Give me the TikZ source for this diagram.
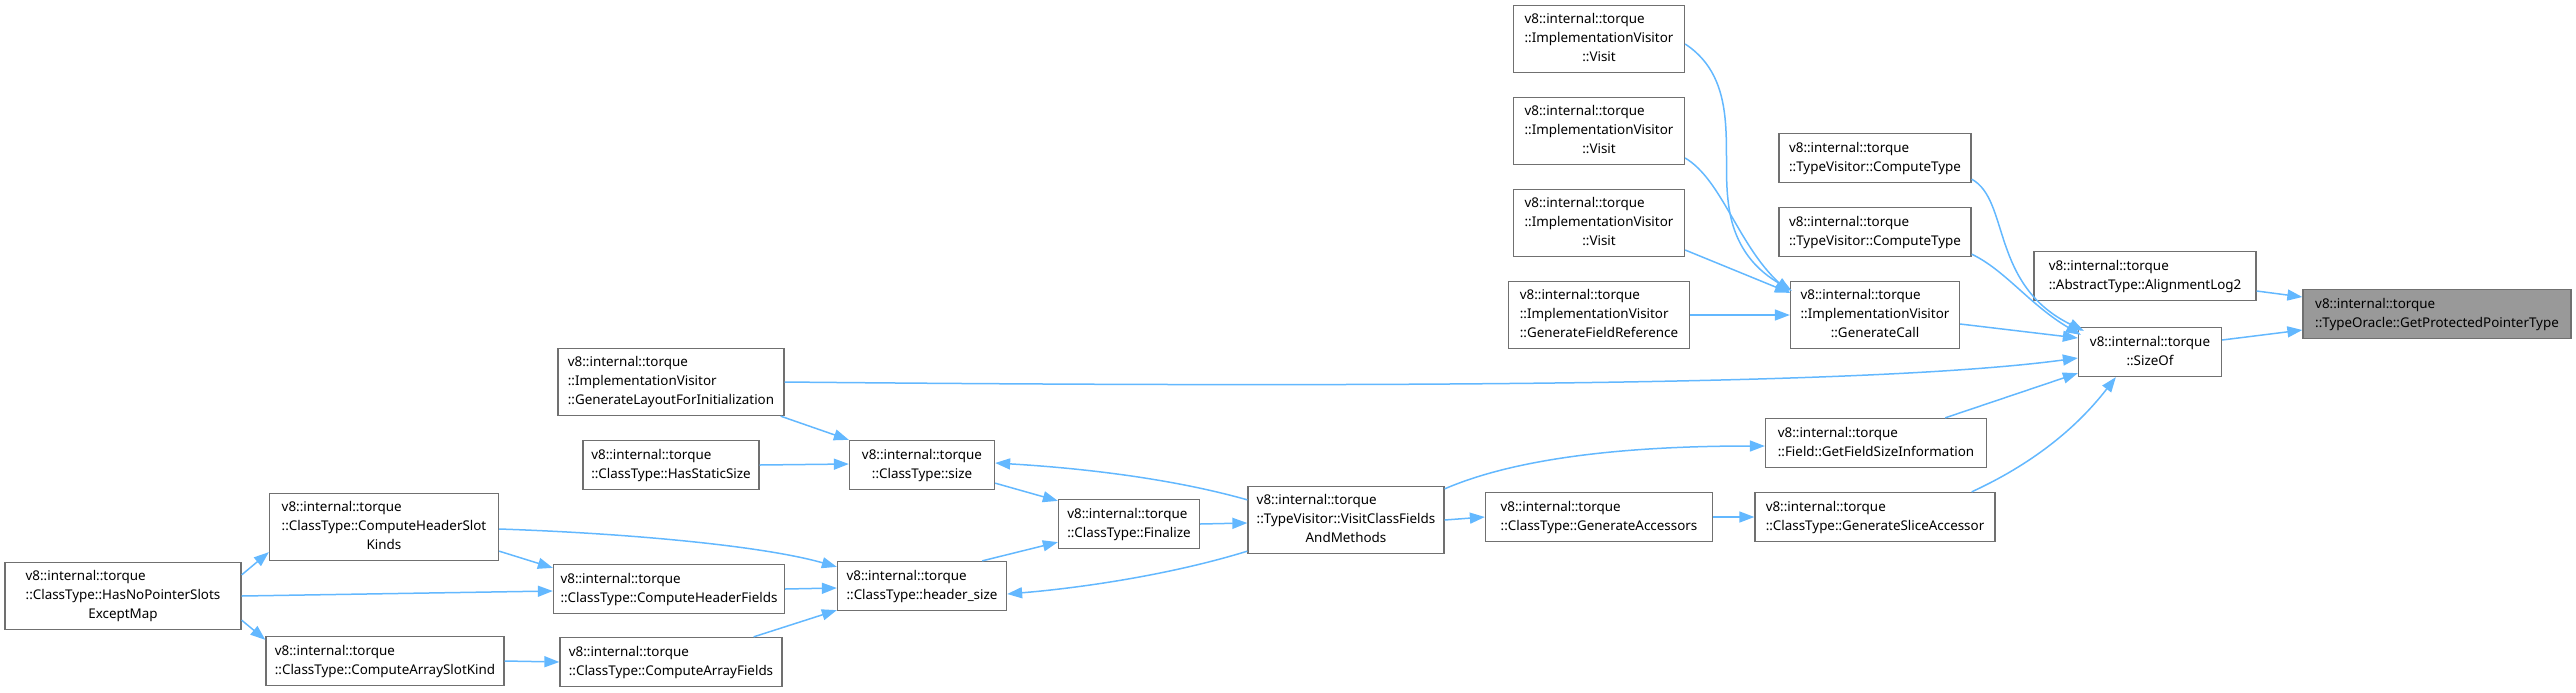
\documentclass[tikz,border=0pt]{standalone}
\usepackage{fontspec}
\setmainfont{Noto Sans}
\usetikzlibrary{arrows.meta,calc}
\definecolor{edgeblue}{HTML}{63B8FF}
\definecolor{boxgray}{HTML}{707070}
\definecolor{hifill}{HTML}{999999}
\newcommand\twol[2]{\begin{tabular}{@{}l@{}}#1\\\multicolumn{1}{@{}c@{}}{#2}\end{tabular}}
\tikzset{
  fn/.style={draw=boxgray, line width=0.65pt, fill=white, inner sep=0pt, anchor=center,
    font=\fontsize{6.7}{9.4}\selectfont},
  two/.style={fn, minimum height=24.5pt},
  three/.style={fn, minimum height=33.5pt},
  call/.style={draw=edgeblue, line width=0.75pt, -{Triangle[length=7.5pt,width=5.5pt]}},
}
\begin{document}
\begin{tikzpicture}[x=0.5pt,y=-0.5pt]
\useasboundingbox (0,0) rectangle (2576,692);
% nodes
\node[two, minimum width=134pt, fill=hifill] (gppt) at (2437,314) {\twol{v8::internal::torque}{::TypeOracle::GetProtectedPointerType}};
\node[two, minimum width=111pt] (al2) at (2145,276) {\twol{v8::internal::torque}{::AbstractType::AlignmentLog2}};
\node[two, minimum width=71.5pt] (sizeof) at (2150,352) {\twol{v8::internal::torque}{::SizeOf}};
\node[two, minimum width=96pt] (ct1) at (1875,158) {\twol{v8::internal::torque}{::TypeVisitor::ComputeType}};
\node[two, minimum width=96pt] (ct2) at (1875,232) {\twol{v8::internal::torque}{::TypeVisitor::ComputeType}};
\node[three, minimum width=85.5pt] (v1) at (1599,39) {\twol{v8::internal::torque\\::ImplementationVisitor}{::Visit}};
\node[three, minimum width=85.5pt] (v2) at (1599,131) {\twol{v8::internal::torque\\::ImplementationVisitor}{::Visit}};
\node[three, minimum width=85.5pt] (v3) at (1599,223) {\twol{v8::internal::torque\\::ImplementationVisitor}{::Visit}};
\node[three, minimum width=90.5pt] (gfr) at (1599,315) {\twol{v8::internal::torque\\::ImplementationVisitor}{::GenerateFieldReference}};
\node[three, minimum width=84.5pt] (gc) at (1875,315) {\twol{v8::internal::torque\\::ImplementationVisitor}{::GenerateCall}};
\node[three, minimum width=113pt] (glfi) at (671,382) {\twol{v8::internal::torque\\::ImplementationVisitor}{::GenerateLayoutForInitialization}};
\node[two, minimum width=110.5pt] (gfsi) at (1876,443) {\twol{v8::internal::torque}{::Field::GetFieldSizeInformation}};
\node[two, minimum width=120pt] (gsa) at (1875,517) {\twol{v8::internal::torque}{::ClassType::GenerateSliceAccessor}};
\node[two, minimum width=113.5pt] (ga) at (1599,517) {\twol{v8::internal::torque}{::ClassType::GenerateAccessors}};
\node[three, minimum width=98pt] (vcf) at (1346,520) {\twol{v8::internal::torque\\::TypeVisitor::VisitClassFields}{AndMethods}};
\node[two, minimum width=72.5pt] (size) at (922,465) {\twol{v8::internal::torque}{::ClassType::size}};
\node[two, minimum width=88pt] (hss) at (671,465) {\twol{v8::internal::torque}{::ClassType::HasStaticSize}};
\node[two, minimum width=70.5pt] (fin) at (1129,524) {\twol{v8::internal::torque}{::ClassType::Finalize}};
\node[two, minimum width=84.5pt] (hs) at (922,586) {\twol{v8::internal::torque}{::ClassType::header\_size}};
\node[three, minimum width=114.5pt] (chsk) at (384,527) {\twol{v8::internal::torque\\::ClassType::ComputeHeaderSlot}{Kinds}};
\node[two, minimum width=115.5pt] (chf) at (669,589) {\twol{v8::internal::torque}{::ClassType::ComputeHeaderFields}};
\node[two, minimum width=119pt] (cask) at (385,661) {\twol{v8::internal::torque}{::ClassType::ComputeArraySlotKind}};
\node[two, minimum width=111pt] (caf) at (671,662) {\twol{v8::internal::torque}{::ClassType::ComputeArrayFields}};
\node[three, minimum width=118pt] (hnps) at (123,596) {\twol{v8::internal::torque\\::ClassType::HasNoPointerSlots}{ExceptMap}};
% edges
\draw[call] ($(al2.east)+(0,15)$) -- ($(gppt.west)+(0,-17)$);
\draw[call] ($(sizeof.east)+(0,-12)$) -- ($(gppt.west)+(0,16)$);
\draw[call] ($(ct1.south east)+(0,-4)$) .. controls (2010,200) and (1990,285) .. ($(sizeof.north west)+(6,4)$);
\draw[call] ($(ct2.south east)+(0,-3)$) .. controls (2005,270) and (2030,305) .. ($(sizeof.north west)+(3,8)$);
\draw[call] ($(gc.east)+(0,9)$) -- ($(sizeof.west)+(0,-14)$);
\draw[call] (glfi.east) .. controls (1500,389) and (1900,382) .. ($(sizeof.west)+(0,6)$);
\draw[call] ($(gfsi.north east)+(-42,0)$) -- ($(sizeof.south west)+(0,-4)$);
\draw[call] ($(gsa.north east)+(-24,0)$) .. controls (2030,465) and (2075,430) .. ($(sizeof.south west)+(38,0)$);
\draw[call] ($(v1.east)+(0,5)$) .. controls (1740,80) and (1722,150) .. (1728,200) .. controls (1733,250) and (1760,272) .. ($(gc.north west)+(2,10)$);
\draw[call] ($(v2.east)+(0,27)$) .. controls (1722,180) and (1738,245) .. ($(gc.north west)+(0,12)$);
\draw[call] ($(v3.east)+(0,27)$) -- ($(gc.north west)+(0,12)$);
\draw[call] (gfr.east) -- (gc.west);
\draw[call] ($(vcf.north east)+(0,3)$) .. controls (1530,452) and (1660,446) .. ($(gfsi.west)+(0,3)$);
\draw[call] (vcf.east) -- (ga.west);
\draw[call] (ga.east) -- (gsa.west);
\draw[call] ($(vcf.north west)+(0,14)$) .. controls (1170,478) and (1080,468) .. ($(size.east)+(0,-2)$);
\draw[call] ($(vcf.south west)+(0,-3)$) .. controls (1170,575) and (1080,588) .. ($(hs.east)+(0,8)$);
\draw[call] (fin.east) -- ($(vcf.west)+(0,3)$);
\draw[call] ($(size.south east)+(0,-7)$) -- ($(fin.north west)+(0,2)$);
\draw[call] ($(hs.north east)+(-25,0)$) -- ($(fin.south west)+(0,-7)$);
\draw[call] ($(glfi.south east)+(-4,0)$) -- ($(size.north west)+(0,0)$);
\draw[call] (hss.east) -- ($(size.west)+(0,-1)$);
\draw[call] ($(chsk.east)+(0,2)$) .. controls (620,533) and (760,545) .. ($(hs.north west)+(0,6)$);
\draw[call] ($(chsk.south east)+(0,-10)$) -- ($(chf.north west)+(0,4)$);
\draw[call] (chf.east) -- ($(hs.west)+(0,2)$);
\draw[call] ($(caf.north east)+(-29,0)$) -- ($(hs.south west)+(0,-1)$);
\draw[call] (cask.east) -- (caf.west);
\draw[call] ($(hnps.north east)+(0,13)$) -- ($(chsk.south west)+(0,-9)$);
\draw[call] (hnps.east) -- ($(chf.west)+(0,2)$);
\draw[call] ($(hnps.south east)+(0,-10)$) -- ($(cask.north west)+(0,4)$);
\end{tikzpicture}
\end{document}
